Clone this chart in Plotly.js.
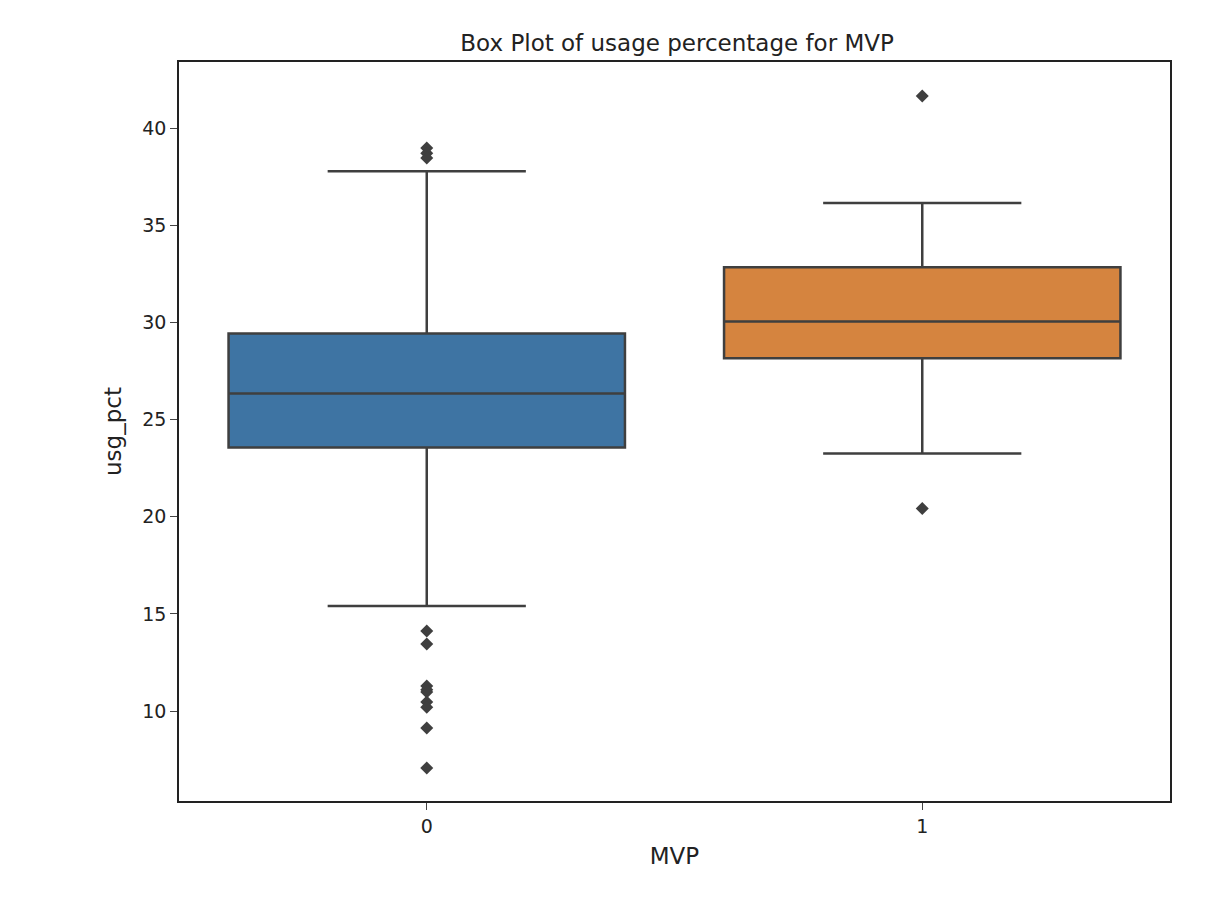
<!DOCTYPE html>
<html><head><meta charset="utf-8">
<script src="https://cdn.plot.ly/plotly-3.0.1.min.js"></script>
<style>body{margin:0;background:#fff}</style></head>
<body><div id="chart" style="width:1220px;height:916px"></div>
<script>
const categories = [0, 1];
const q1 = [23.56, 28.15];
const median = [26.34, 30.05];
const q3 = [29.43, 32.84];
const lowerWhisker = [15.41, 23.25];
const upperWhisker = [37.78, 36.14];
const outliers0 = [38.97, 38.7, 38.46, 14.12, 13.45, 11.29, 11.1, 10.98, 10.46, 10.2, 9.13, 7.07];
const outliers1 = [41.65, 20.42];
const colors = ['#3e74a3', '#d5843f'];
const edge = '#3f3f3f';

const traces = categories.map((c, i) => ({
  type: 'box', x: [c], q1: [q1[i]], median: [median[i]], q3: [q3[i]],
  lowerfence: [lowerWhisker[i]], upperfence: [upperWhisker[i]],
  width: 0.8, whiskerwidth: 0.5, boxpoints: false,
  fillcolor: colors[i], line: {color: edge, width: 2.5},
  hoverinfo: 'skip', showlegend: false
}));
[outliers0, outliers1].forEach((o, i) => traces.push({
  type: 'scatter', mode: 'markers', x: o.map(() => categories[i]), y: o,
  marker: {symbol: 'diamond', size: 10, color: edge}, showlegend: false
}));

Plotly.newPlot('chart', traces, {
  width: 1220, height: 916,
  margin: {l: 179, r: 50, t: 62, b: 115},
  font: {family: 'DejaVu Sans', size: 19, color: '#222'},
  title: {text: 'Box Plot of usage percentage for MVP', x: 0.555, y: 0.962, font: {size: 23}},
  plot_bgcolor: '#fff', paper_bgcolor: '#fff',
  xaxis: {range: [-0.5, 1.5], tickvals: categories, ticktext: ['0', '1'], showgrid: false, zeroline: false,
    showline: true, mirror: true, linecolor: '#222', linewidth: 1.5, ticks: 'outside', ticklen: 7,
    title: {text: 'MVP', standoff: 12}},
  yaxis: {range: [5.37, 43.4], tickvals: [10, 15, 20, 25, 30, 35, 40], showgrid: false, zeroline: false,
    showline: true, mirror: true, linecolor: '#222', linewidth: 1.5, ticks: 'outside', ticklen: 7,
    title: {text: 'usg_pct', standoff: 14}}
}, {displayModeBar: false});
</script></body></html>
